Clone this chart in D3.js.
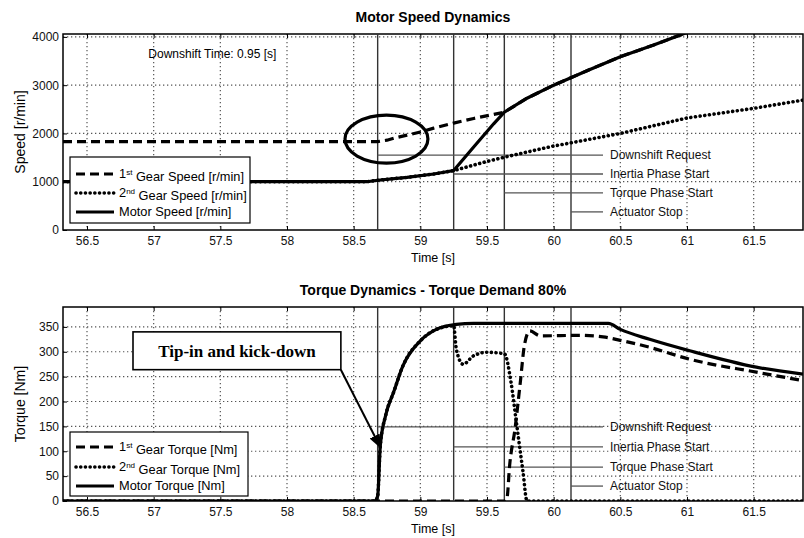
<!DOCTYPE html>
<html>
<head>
<meta charset="utf-8">
<script src="https://cdn.jsdelivr.net/npm/d3@7"></script>
<style>
  body { margin: 0; background: #fff; }
  svg { font-family: "Liberation Sans", Arial, sans-serif; }
  .tick text { font-size: 12px; fill: #111; }
  .tick line { stroke: #000; }
</style>
</head>
<body>
<div id="chart"></div>
<script>
// ---- data ----
const timeTicks = [56.5, 57, 57.5, 58, 58.5, 59, 59.5, 60, 60.5, 61, 61.5]
const speedTicks = [0, 1000, 2000, 3000, 4000]
const torqueTicks = [0, 50, 100, 150, 200, 250, 300, 350]

// speed panel
const gear1SpeedT = [56.32, 58.6, 58.68, 58.75, 58.82, 58.9, 59.0, 59.1, 59.25, 59.4, 59.63, 59.8, 60.0, 60.25, 60.5, 60.75, 60.95, 61.2]
const gear1Speed  = [1830, 1830, 1832, 1860, 1915, 1965, 2030, 2110, 2215, 2310, 2440, 2730, 3000, 3300, 3590, 3830, 4040, 4300]
const gear2SpeedT = [56.32, 58.6, 58.68, 58.9, 59.1, 59.25, 59.5, 59.65, 60.0, 60.12, 60.5, 61.0, 61.5, 61.87]
const gear2Speed  = [1000, 1000, 1030, 1090, 1160, 1230, 1420, 1520, 1740, 1800, 2000, 2320, 2520, 2690]
const motorSpeedT = [56.32, 58.6, 58.68, 58.9, 59.1, 59.25, 59.4, 59.55, 59.63, 59.8, 60.0, 60.25, 60.5, 60.75, 60.95, 61.2]
const motorSpeed  = [1000, 1000, 1030, 1090, 1160, 1230, 1720, 2200, 2440, 2730, 3000, 3300, 3590, 3830, 4040, 4300]

// torque panel
const gear1TorqueT = [56.32, 59.64, 59.65, 59.67, 59.71, 59.75, 59.78, 59.82, 59.9, 60.2, 60.37, 60.5, 60.72, 61.02, 61.52, 61.87]
const gear1Torque  = [0, 0, 5, 72, 145, 239, 312, 342, 332, 333, 330, 323, 309, 285, 259, 242]
const gear2TorqueT = [56.32, 58.66, 58.68, 58.70, 58.74, 58.80, 58.87, 59.0, 59.12, 59.25, 59.27, 59.32, 59.40, 59.50, 59.63, 59.68, 59.72, 59.77, 59.80, 61.87]
const gear2Torque  = [0, 0, 10, 112, 172, 219, 272, 322, 345, 352, 305, 275, 292, 299, 296, 239, 159, 59, 0, 0]
const motorTorqueT = [56.32, 58.66, 58.68, 58.70, 58.74, 58.80, 58.87, 59.0, 59.12, 59.27, 59.4, 60.41, 60.5, 60.72, 61.02, 61.52, 61.87]
const motorTorque  = [0, 0, 10, 112, 172, 219, 272, 322, 345, 355, 357, 357, 345, 325, 302, 269, 255]

// shift events
const eventNames = ["Downshift Request", "Inertia Phase Start", "Torque Phase Start", "Actuator Stop"]
const eventTimes = [58.68, 59.25, 59.63, 60.13]
const eventSpeedRows = [1550, 1160, 770, 375]
const eventTorqueRows = [149, 109, 68, 30]
const eventLineEnd = 60.37

// ---- layout ----
const width = 804
const height = 538
const xRange = [63, 803]

const svg = d3.select("div#chart").append("svg").attr("width", width).attr("height", height)

const x = d3.scaleLinear().domain([56.32, 61.87]).range(xRange)
const ySpeed = d3.scaleLinear().domain([0, 4060]).range([230, 34])
const yTorque = d3.scaleLinear().domain([0, 390]).range([501, 307])

const toPts = (ts, vs) => ts.map((t, i) => [t, vs[i]])

function panel(id, y, yTicks, title, yLabel, titleY) {
    const [bottom, top] = y.range()
    const g = svg.append("g").attr("class", id)

    svg.append("clipPath").attr("id", "clip-" + id)
        .append("rect").attr("x", xRange[0]).attr("y", top).attr("width", xRange[1] - xRange[0]).attr("height", bottom - top)

    // dotted grid
    const grid = g.append("g").attr("class", "grid")
        .style("stroke", "#555").style("stroke-width", 1.2).style("stroke-dasharray", "1.3,2.7")
    grid.selectAll(".gx").data(timeTicks).enter().append("line")
        .attr("x1", d => x(d)).attr("x2", d => x(d)).attr("y1", top).attr("y2", bottom)
    grid.selectAll(".gy").data(yTicks.filter(d => d > 0)).enter().append("line")
        .attr("x1", xRange[0]).attr("x2", xRange[1]).attr("y1", d => y(d)).attr("y2", d => y(d))

    // axes
    g.append("g").attr("transform", `translate(0,${bottom})`)
        .call(d3.axisBottom(x).tickValues(timeTicks).tickSize(-4).tickPadding(6).tickFormat(d3.format("")))
        .call(a => a.select(".domain").remove())
    g.append("g").attr("transform", `translate(0,${top})`)
        .call(d3.axisTop(x).tickValues(timeTicks).tickSize(-4).tickFormat(""))
        .call(a => a.select(".domain").remove())
    g.append("g").attr("transform", `translate(${xRange[0]},0)`)
        .call(d3.axisLeft(y).tickValues(yTicks).tickSize(-4).tickPadding(4).tickFormat(d3.format("")))
        .call(a => a.select(".domain").remove())

    g.append("rect").attr("x", xRange[0]).attr("y", top)
        .attr("width", xRange[1] - xRange[0]).attr("height", bottom - top)
        .style("fill", "none").style("stroke", "#000").style("stroke-width", 1.5)

    svg.append("text").attr("x", (xRange[0] + xRange[1]) / 2).attr("y", titleY)
        .style("text-anchor", "middle").style("font-weight", "bold").style("font-size", "14px")
        .text(title)
    svg.append("text").attr("transform", `translate(20,${(top + bottom) / 2}) rotate(-90)`)
        .style("text-anchor", "middle").style("font-size", "14px").attr("dy", "0.35em")
        .text(yLabel)
    svg.append("text").attr("x", (xRange[0] + xRange[1]) / 2).attr("y", bottom + 32)
        .style("text-anchor", "middle").style("font-size", "12.5px")
        .text("Time [s]")

    return g.append("g").attr("clip-path", `url(#clip-${id})`)
}

function events(plot, y, rows) {
    const [bottom, top] = y.range()
    plot.selectAll(".ev").data(eventTimes).enter().append("line")
        .attr("x1", d => x(d)).attr("x2", d => x(d)).attr("y1", top).attr("y2", bottom)
        .style("stroke", "#333").style("stroke-width", 1.4)
    plot.selectAll(".evh").data(eventTimes).enter().append("line")
        .attr("x1", d => x(d)).attr("x2", x(eventLineEnd))
        .attr("y1", (d, i) => y(rows[i])).attr("y2", (d, i) => y(rows[i]))
        .style("stroke", "#555").style("stroke-width", 1.3)
    plot.selectAll(".evt").data(eventNames).enter().append("text")
        .attr("x", x(eventLineEnd) + 7).attr("y", (d, i) => y(rows[i])).attr("dy", "0.35em")
        .style("font-size", "12px").style("fill", "#111")
        .text(d => d)
}

const styles = {
    dashed: { dash: "9,5", cap: "butt", w: 3.2 },
    dotted: { dash: "0.1,4.6", cap: "round", w: 3.6 },
    solid: { dash: null, cap: "butt", w: 3.2 }
}

function series(plot, y, pts, kind, curve) {
    const line = d3.line().x(d => x(d[0])).y(d => y(d[1])).curve(curve)
    plot.append("path").datum(pts).attr("d", line)
        .style("fill", "none").style("stroke", "#000").style("stroke-width", styles[kind].w)
        .style("stroke-dasharray", styles[kind].dash).style("stroke-linecap", styles[kind].cap)
}

function legend(box, items) {
    const lg = svg.append("g")
    lg.append("rect").attr("x", box.x).attr("y", box.y).attr("width", box.w).attr("height", box.h)
        .style("fill", "#fff").style("stroke", "#000").style("stroke-width", 1.2)
    items.forEach((it, i) => {
        const yy = box.rows[i]
        lg.append("line").attr("x1", box.x + 6).attr("x2", box.x + 44).attr("y1", yy).attr("y2", yy)
            .style("stroke", "#000").style("stroke-width", styles[it.kind].w)
            .style("stroke-dasharray", styles[it.kind].dash).style("stroke-linecap", styles[it.kind].cap)
        const t = lg.append("text").attr("x", box.x + 49).attr("y", yy).attr("dy", "0.35em")
            .style("font-size", "12.8px")
        if (it.sup) {
            t.append("tspan").text(it.pre)
            t.append("tspan").attr("dy", "-0.45em").style("font-size", "8px").text(it.sup)
            t.append("tspan").attr("dy", "0.45em").text(it.text)
        } else {
            t.text(it.text)
        }
    })
}

// ---- speed panel ----
const speedPlot = panel("speed", ySpeed, speedTicks, "Motor Speed Dynamics", "Speed [r/min]", 22)
events(speedPlot, ySpeed, eventSpeedRows)
series(speedPlot, ySpeed, toPts(gear2SpeedT, gear2Speed), "dotted", d3.curveLinear)
series(speedPlot, ySpeed, toPts(gear1SpeedT, gear1Speed), "dashed", d3.curveLinear)
series(speedPlot, ySpeed, toPts(motorSpeedT, motorSpeed), "solid", d3.curveLinear)

// circled region
speedPlot.append("ellipse")
    .attr("cx", x(58.746)).attr("cy", ySpeed(1884))
    .attr("rx", x(58.746 + 0.311) - x(58.746)).attr("ry", ySpeed(1884) - ySpeed(1884 + 497))
    .style("fill", "none").style("stroke", "#000").style("stroke-width", 3.2)

svg.append("text").attr("x", x(57.44)).attr("y", ySpeed(3660)).attr("dy", "0.35em")
    .style("text-anchor", "middle").style("font-size", "12px")
    .text("Downshift Time: 0.95 [s]")

legend({ x: 70, y: 157, w: 180, h: 66, rows: [174, 193, 212] }, [
    { kind: "dashed", pre: "1", sup: "st", text: " Gear Speed [r/min]" },
    { kind: "dotted", pre: "2", sup: "nd", text: " Gear Speed [r/min]" },
    { kind: "solid", text: "Motor Speed [r/min]" }
])

// ---- torque panel ----
const torquePlot = panel("torque", yTorque, torqueTicks, "Torque Dynamics - Torque Demand 80%", "Torque [Nm]", 295)
events(torquePlot, yTorque, eventTorqueRows)
series(torquePlot, yTorque, toPts(gear2TorqueT, gear2Torque), "dotted", d3.curveMonotoneX)
series(torquePlot, yTorque, toPts(gear1TorqueT, gear1Torque), "dashed", d3.curveMonotoneX)
series(torquePlot, yTorque, toPts(motorTorqueT, motorTorque), "solid", d3.curveMonotoneX)

legend({ x: 70, y: 432, w: 178, h: 64, rows: [447, 467, 486] }, [
    { kind: "dashed", pre: "1", sup: "st", text: " Gear Torque [Nm]" },
    { kind: "dotted", pre: "2", sup: "nd", text: " Gear Torque [Nm]" },
    { kind: "solid", text: "Motor Torque [Nm]" }
])

// tip-in annotation
const tipBox = { t0: 56.845, t1: 58.404, v0: 264, v1: 340 }
const tipTarget = [58.70, 108]
svg.append("defs").append("marker").attr("id", "arrow")
    .attr("viewBox", "0 0 10 10").attr("refX", 9).attr("refY", 5)
    .attr("markerWidth", 7).attr("markerHeight", 7).attr("orient", "auto")
    .append("path").attr("d", "M0,1 L10,5 L0,9 Z").style("fill", "#000")
svg.append("line")
    .attr("x1", x(tipBox.t1)).attr("y1", yTorque(tipBox.v0))
    .attr("x2", x(tipTarget[0])).attr("y2", yTorque(tipTarget[1]))
    .style("stroke", "#000").style("stroke-width", 2).attr("marker-end", "url(#arrow)")
svg.append("rect")
    .attr("x", x(tipBox.t0)).attr("y", yTorque(tipBox.v1))
    .attr("width", x(tipBox.t1) - x(tipBox.t0)).attr("height", yTorque(tipBox.v0) - yTorque(tipBox.v1))
    .style("fill", "#fff").style("stroke", "#000").style("stroke-width", 1.6)
svg.append("text")
    .attr("x", (x(tipBox.t0) + x(tipBox.t1)) / 2).attr("y", (yTorque(tipBox.v0) + yTorque(tipBox.v1)) / 2)
    .attr("dy", "0.35em").style("text-anchor", "middle")
    .style("font-family", "'Liberation Serif', 'Times New Roman', serif").style("font-size", "17px").style("font-weight", "bold")
    .text("Tip-in and kick-down")
</script>
</body>
</html>
